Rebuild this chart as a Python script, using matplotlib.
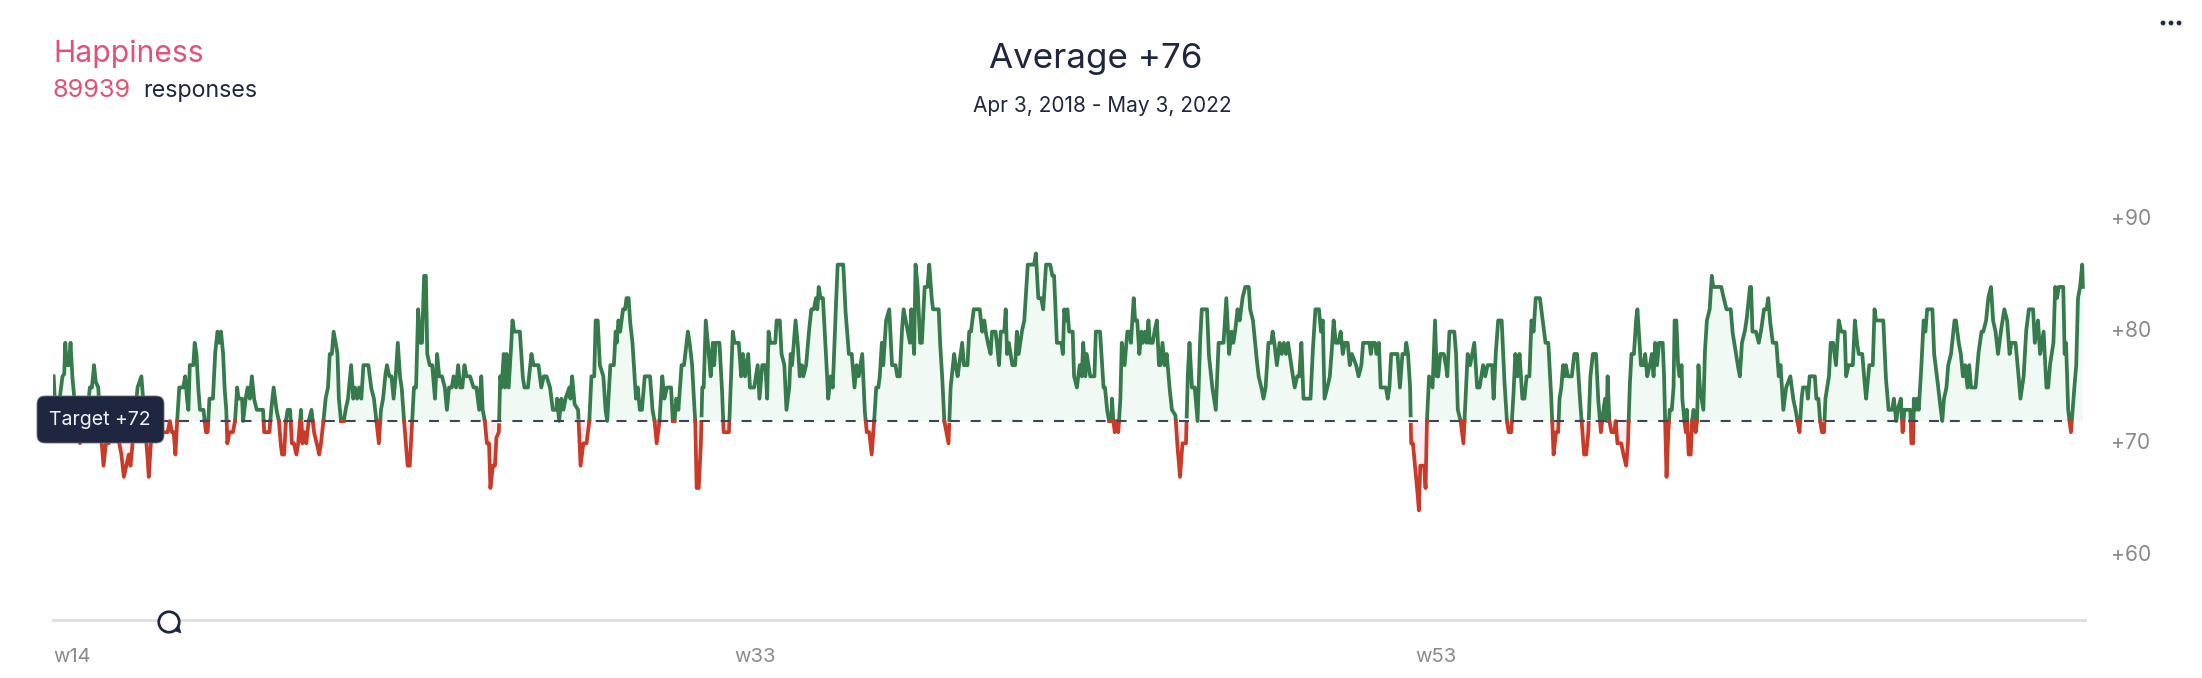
import numpy as np
from matplotlib import pyplot as plt
from matplotlib.patches import Circle, Polygon, FancyBboxPatch
from matplotlib.transforms import ScaledTranslation

plt.rcParams['font.family'] = ['Inter', 'DejaVu Sans']

# sample position / score in four stretches
t1 = [153,156,170,178,183,186,190,196,201,206,212,218,228,250,256,262,268,273,280,285,290,295,302,310,320,340,346,353,360,367,372,378,392,403,408,412,420,424,430,436,445,470,478,484,490,495,500,505,511,522,528,533,537,541,551,555,560,565,570,580,587,592,597,607,613,620,625,630,636,640,645,648,654,664,670,676,680,690,693,700,706,712,718,724,732,750,753,768,773,780,788,795,800,804,810,815,820,827,832,838,845,850,858,862,868,873,880,888,895,903,910,915,922,928,935,940,946,951,957,962,966,972,980,985,992,1001,1007,1012,1018,1024,1030,1036,1050,1058,1066,1073,1080,1086,1092,1098,1103,1110,1116,1122,1128,1134,1140,1145,1152,1162,1168,1175,1180,1186,1192,1198,1203,1209,1214,1218,1225,1232,1240,1246,1252,1260,1268,1274,1280,1288,1293,1300,1306,1312,1318,1324,1330,1340,1350,1358,1366,1372,1376,1382,1388,1394,1398,1405,1411,1415,1422,1426,1430,1436,1440,1444,1450,1456,1461,1466,1482,1490,1495,1505,1515,1521,1535,1543,1550,1558]
v1 = [76,74,74,76,76.2,79,77,77,79,76,74,72,70,73,75,75,77,75.5,75,72,70,68,70,70,71,70,69,67,68,69,68,70,75,76,74,72,69,67,70,71,71,71,71,72,71,71,69,72,75,75,76,74,73,77,77,79,78,75,73,73,71,71,74,74,78,80,79,80,78,75,73,70,71,71,72,75,74,74,72,74,75,74,76,74,73,73,71,71,73,75,73,72,70,69,69,72,73,73,70,70,69,70,73,70,71,70,72,73,71,70,69,70,72,74,75,78,78,80,79,78,74,72,72,73,74,77,74,75,74,75,74,77,77,75,74,72,70,73,74,76,77,76,76,74,76,79,76,75,72,68,68,72,75,75,82,79,79,85,85,78,77,77,74,78,76,76,75,73,75,75,76,75,77,75,75,77,76,76,75,75,73,76,73,72,70,70,66,68,68,70.5,71,76,75,78,75,78,75,78,81,80,80,76,75,75,78,77,77,75,76,76]

t2 = [0,8,18,20,26,32,38,44,55,58,63,70,80,87,95,104,112,118,126,130,136,142,152,158,163,170,172,182,187,190,195,200,208,214,218,224,228,235,245,250,256,262,270,285,292,298,304,312,320,326,333,345,350,355,360,366,375,382,393,398,405,410,414,418,424,430,434,438,444,450,458,464,468,472,483,490,495,510,515,521,526,538,545,550,556,565,570,582,592,597,605,614,619,623,628,642,646,655,660,668,674,682,686,690,700,706,712,718,722,730,738,745,752,758,762,766,771,778,785,793,800,806,812,820,836,842,852,860,868,874,880,890,897,903,910,917,924,930,936,940,946,950,958,967,975,985,990,997,1003,1008,1014,1020,1026,1030,1038,1042,1048,1055,1060,1068,1076,1081,1088,1092,1108,1112,1118,1124,1130,1136,1142,1152,1156,1162,1175,1180,1190,1195,1200,1208,1225,1232,1238,1242,1248,1256,1260,1270,1274,1280,1285,1295,1299,1303,1308,1318,1326,1331,1336,1345,1352,1362,1380,1385,1392,1400,1406,1414,1426,1432,1437,1445,1458,1462,1466,1471,1475,1480,1490,1494,1502,1510,1516,1520,1526,1530,1540,1552,1556,1567]
v2 = [75,73,73,74,72,74,73,74,75,74,76,73.5,73,68,70,70,72,76,76,81,81,77,76,73,72,76,77,77,80,79,81,80,82,82,83,83,81,79,74,75,73,73,76,76,73,72,70,72,76,74,75,75,72,72,74,73,77,77,80,79,77,74,72,66,66,70,75,75,81,79,76,79,77,79,79,75,71,71,75,80,79,79,76,78,76,78,75,75,77,74,77,77,74,80,79,79,81,81,78,77,73,75,78,77,81,79,76,77,76,77,80,82,82,83,82,84,83,83,79,74,76,75,80,86,86,82,78,78,75,77,76,78,73,71,71,69,72,75,75,76,79,77,81,82,77,77,76,76,80,82,81,80,79,82,78,86,84,79,79,84,84,86,83,82,82,79,76,72,71,70,75,78,77,76,79,77,77,80,80,82,82,80,81,80,79,78,80,80,79,77,80,80,82,78,79,77,77,80,78,80,81,86,86,87,83,83,82,86,86,85,85,79,79,78,82,81,82,80,80,76,75,77,76,79,76,78,76,76,80,80]

t3 = [0,6,10,14,20,26,32,34,38,42,46,52,58,62,70,75,78,84,88,92,96,100,106,112,118,122,128,133,138,142,150,155,162,168,172,178,184,190,198,205,215,220,228,235,245,250,255,262,270,278,285,290,305,310,320,330,338,352,360,368,375,380,385,392,398,406,414,424,428,436,445,452,460,466,472,480,488,492,497,504,512,518,524,530,536,545,550,555,562,568,574,580,600,606,614,624,630,635,640,648,655,660,666,672,680,686,692,698,706,712,718,730,737,745,750,768,772,776,784,788,795,800,815,820,825,830,848,855,862,870,873,878,884,887,892,898,904,909,913,924,928,932,938,948,955,960,964,970,980,986,990,996,1003,1010,1015,1020,1028,1036,1042,1048,1055,1067,1075,1082,1092,1098,1105,1118,1122,1128,1135,1145,1152,1160,1165,1172,1178,1184,1190,1196,1204,1210,1216,1224,1230,1236,1242,1254,1262,1270,1278,1285,1293,1300,1306,1310,1315,1320,1325,1328,1334,1345,1352,1360,1368,1373,1380,1386,1392,1398,1405,1414,1420,1428,1435,1440,1444,1447,1452,1458,1466,1470,1475,1486,1492,1500,1505,1510,1515,1522,1528,1532,1538,1542,1550,1554,1560,1567]
v3 = [80,77,75,75,73,72,72,74,72,71,72,71,74,79,77,79,80,80,79,81,83,81,81,78,80,79,80,79,81,79,79,80,81,77,77,79,77,78,75,73,72.5,70,67,70,70,76,79,75,75,72,79,82,82,78,75,73,79,79,83,78,80,79,80,82,81,83,84,84,82,81,78,76,75,74,75,79,79,80,79,77,79,78,79,78,79,77,76,75,76,76,79,74,74,78,82,82,80,81,74,75,76,78,81,79,79,80,78,79,79,77,78,77,76,77,79,79,78,79,79,78,79,75,75,74,75,78,78,75,78,78,79,78,75,70,70,68,66,64,68,68,66,72,76,75,81,76,76,78,78,77,76,80,80,80,78,73,72,70,74,78,77,79,75,75,77,76,77,77,74,78,81,81,76,72,71,71,74,78,76,78,74,74,76,76,81,80,83,83,81,79,79,75,69,71,71,74,75,77,76,77,76,76,78,78,74,72,69,69,71,76,78,78,74,71,73,74,72,76,72,71,71,72,70,70,69,68,70,75,78,78,81,82,79,77,77,78,76,77]

t4 = [0,5,10,15,20,26,36,40,43,47,52,56,62,67,70,75,80,84,90,92,98,102,105,110,116,120,124,130,134,138,142,147,152,156,162,170,176,180,203,210,218,230,235,245,250,256,262,270,275,285,288,292,302,310,316,325,332,337,342,350,360,367,372,380,388,400,408,415,420,426,432,436,447,450,455,470,474,480,485,490,496,500,510,515,522,530,538,545,555,559,566,578,584,590,595,605,610,616,625,635,640,644,665,672,680,690,695,702,706,715,720,725,742,745,750,752,757,761,766,772,780,785,790,805,810,818,825,833,838,845,850,858,868,872,880,886,892,898,905,910,915,928,936,945,950,958,964,972,978,985,992,1000,1010,1018,1025,1030,1042,1048,1056,1065,1072,1080,1092,1097,1106,1112,1122,1130,1135,1140,1150,1155,1160,1165,1178,1182,1186,1192,1200,1207,1215,1220,1226,1232,1234]
v4 = [77,78,76,79,77,79,79,76,72,67,71,73,73,75,81,81,77,76,77,74,72,71,73,69,69,72,73,71,72,77,75,74,73,78,81,82,85,84,84,83,82,82,80,78,77,76,79,80,81,84,84,80,80,79,80,82,82,83,81,79,79,76,77,73,75,76,74,73,72,71,74,75,75,74,76,76,74,74,72,71,71,74,76,79,79,77,81,80,80,76,77,77,81,79,78,78,76,74,77,77,82,81,81,76,73,73,74,72,73,74,71,73,73,70,70,74,73,74,73,76,81,80,82,82,78,76,74,72,74,75,77,78,81,81,79,78,76,77,75,77,75,75,78,80,80,81,83,84,81,80,78,80,82,81,78,79,79,77,74,76,80,82,82,79,81,78,80,75,75,77,79,84,83,84,84,78,79,73,71,74,77,83,84,86,84]

chunk_start = [0, 1568, 3136, 4704]
target = 72
y_ticks = [60, 70, 80, 90]
week_pos = [151, 2092, 4034]
week_labels = ['w14', 'w33', 'w53']

green = '#367b4c'
red = '#c93a29'
navy = '#1f2640'
pink = '#e0527a'
grey = '#8a8a8a'

t = np.concatenate([np.array(a) + s for a, s in zip([t1, t2, t3, t4], chunk_start)])
v = np.concatenate([v1, v2, v3, v4])

# fine grid so the colour change falls right on the target line
grid = np.arange(t[0], t[-1] + 0.5, 0.5)
vals = np.interp(grid, t, v)

W, H = 2202, 678
fig = plt.figure(figsize=(W / 100, H / 100), dpi=100, facecolor='white')
ax = fig.add_axes([53 / W, 1 - 620 / H, (2085 - 53) / W, (620 - 197) / H])
ax.set_xlim(151, 5944)
ax.set_ylim(target - (620 - 421) / 11.17, target + (421 - 197) / 11.17)

ax.fill_between(grid, target, vals, where=vals >= target, color='#f0f9f4', lw=0, zorder=1)
ax.fill_between(grid, target, vals, where=vals <= target, color='#fdf0f4', lw=0, zorder=1)
ax.plot(grid, np.ma.masked_where(vals < target, vals), color=green, lw=2.7, zorder=3)
ax.plot(grid, np.ma.masked_where(vals > target, vals), color=red, lw=2.7, zorder=3)
ax.plot([t[0], t[-1] - 60], [target, target], color='#3f4559', lw=1.5, dashes=(4.8, 5.2), zorder=4)

for side in ['top', 'left', 'right']:
    ax.spines[side].set_visible(False)
ax.spines['bottom'].set_color('#e0e0e0')
ax.spines['bottom'].set_linewidth(2.2)

ax.yaxis.tick_right()
ax.set_yticks(y_ticks)
ax.set_yticklabels(['+%d' % y for y in y_ticks], color=grey, fontsize=15.2)
ax.set_xticks(week_pos)
ax.set_xticklabels(week_labels, color=grey, fontsize=14.5, ha='left')
ax.tick_params(length=0)
ax.tick_params(axis='x', pad=20)
ax.tick_params(axis='y', pad=19)
# labels sit a little above their gridline level in the reference
for lbl in ax.get_yticklabels():
    lbl.set_transform(lbl.get_transform() + ScaledTranslation(0, 0.025, fig.dpi_scale_trans))

ox = fig.add_axes([0, 0, 1, 1], facecolor='none')
ox.set_xlim(0, W)
ox.set_ylim(H, 0)
ox.axis('off')

# tooltip on the target line
ox.add_patch(FancyBboxPatch((44, 403), 113, 33, boxstyle='round,pad=7,rounding_size=8', fc=navy, ec='#6b7080', lw=0.6))
ox.text(100, 420, 'Target +72', color='#f2f3f6', fontsize=14, ha='center', va='center')

# comment bubble sitting on the baseline
ox.add_patch(Circle((169, 622), 10, fc='white', ec=navy, lw=2.3))
ox.add_patch(Polygon([[173, 630], [181, 633], [178, 623]], closed=True, fc=navy, ec=navy, lw=0.5))
ox.add_patch(Circle((169, 622), 8.8, fc='white', ec='none'))
for x in [2163, 2171, 2179]:
    ox.add_patch(Circle((x, 23), 2.4, fc=navy, ec='none'))

ox.text(53, 62, 'Happiness', color=pink, fontsize=21.6, va='baseline', ha='left')
ox.text(53, 97, '89939', color=pink, fontsize=18.2, va='baseline', ha='left')
ox.text(143, 97, 'responses', color=navy, fontsize=16.7, va='baseline', ha='left')
ox.text(1096, 68, 'Average +76', color=navy, fontsize=25.2, va='baseline', ha='center')
ox.text(1102, 112, 'Apr 3, 2018 - May 3, 2022', color=navy, fontsize=15, va='baseline', ha='center')

plt.savefig('out.png', dpi=100)
